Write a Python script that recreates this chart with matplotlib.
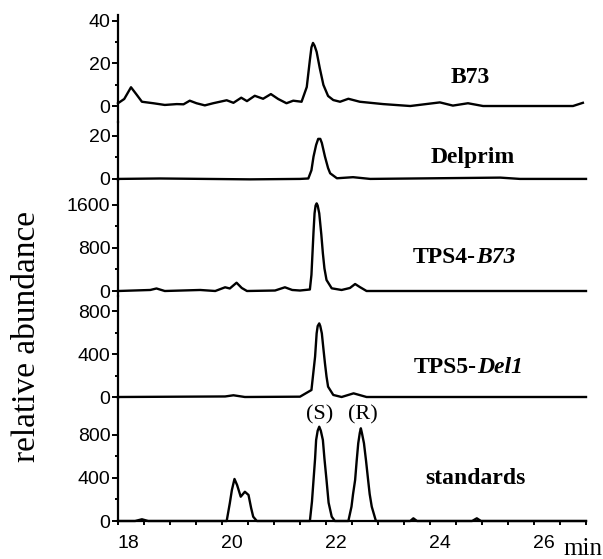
import matplotlib
matplotlib.use("Agg")
import matplotlib.pyplot as plt
from matplotlib.ticker import FixedLocator, MultipleLocator
from matplotlib.transforms import ScaledTranslation

# retention time (min) and abundance
b73_x = [18.00, 18.12, 18.25, 18.35, 18.46, 18.68, 18.90, 19.13, 19.26, 19.38, 19.51, 19.67,
         19.83, 20.09, 20.22, 20.37, 20.48, 20.63, 20.79, 20.94, 21.08, 21.24, 21.37, 21.53,
         21.63, 21.69, 21.72, 21.75, 21.78, 21.82, 21.88, 21.95, 22.04, 22.14, 22.27, 22.43,
         22.65, 23.10, 23.62, 24.19, 24.44, 24.73, 25.02, 25.98, 26.75, 26.94]
b73_y = [1.3, 3.3, 8.8, 5.6, 2.0, 1.3, 0.5, 0.9, 0.8, 2.5, 1.3, 0.3,
         1.3, 2.7, 1.5, 3.9, 2.3, 4.8, 3.4, 5.6, 3.3, 1.3, 2.5, 2.0,
         8.9, 21.6, 27.5, 29.6, 28.3, 25.4, 17.8, 9.9, 4.7, 2.8, 2.0, 3.4,
         2.0, 0.9, 0.0, 1.7, 0.2, 1.3, 0.0, 0.0, 0.0, 1.5]

delprim_x = [18.00, 18.81, 20.54, 21.50, 21.66, 21.72, 21.76, 21.81, 21.85, 21.89, 21.92,
             21.98, 22.04, 22.08, 22.21, 22.52, 22.85, 25.35, 25.73, 27.00]
delprim_y = [0.0, 0.2, -0.2, 0.0, 0.2, 4.0, 10.3, 15.7, 18.5, 18.5, 16.6,
             10.3, 5.0, 2.6, 0.3, 0.8, 0.0, 0.6, 0.0, 0.0]

tps4_x = [18.00, 18.62, 18.74, 18.90, 19.58, 19.87, 20.06, 20.15, 20.28, 20.38, 20.48,
          21.02, 21.21, 21.35, 21.50, 21.69, 21.72, 21.74, 21.76, 21.78, 21.80, 21.82,
          21.84, 21.87, 21.91, 21.94, 21.97, 22.01, 22.11, 22.30, 22.46, 22.56, 22.65,
          22.78, 27.00]
tps4_y = [0, 19, 47, 0, 19, 0, 69, 47, 154, 56, 0,
          9, 69, 19, 9, 28, 300, 700, 1100, 1445, 1590, 1630,
          1590, 1445, 1050, 700, 420, 205, 50, 19, 56, 130, 74,
          0, 0]

tps5_x = [18.00, 20.06, 20.22, 20.44, 21.50, 21.72, 21.79, 21.82, 21.84, 21.87, 21.89,
          21.92, 21.95, 21.98, 22.01, 22.04, 22.14, 22.30, 22.53, 22.78, 27.00]
tps5_y = [0, 5, 16, 0, 3, 65, 375, 592, 660, 685, 660,
          592, 450, 313, 190, 96, 19, 0, 34, 0, 0]

std_x = [18.00, 18.33, 18.46, 18.58, 20.09, 20.15, 20.19, 20.24, 20.29, 20.36, 20.44,
         20.51, 20.56, 20.60, 20.67, 21.69, 21.73, 21.76, 21.79, 21.81, 21.84, 21.87,
         21.90, 21.94, 21.97, 22.01, 22.05, 22.11, 22.17, 22.43, 22.49, 22.52, 22.56,
         22.59, 22.62, 22.65, 22.67, 22.69, 22.73, 22.77, 22.81, 22.84, 22.88, 22.96,
         23.62, 23.68, 23.75, 24.81, 24.90, 24.98, 27.00]
std_y = [0, 0, 16, 0, 0, 165, 288, 391, 335, 226, 272,
         242, 121, 40, 0, 0, 180, 381, 580, 753, 840, 877,
         840, 753, 580, 381, 170, 40, 0, 0, 133, 250, 381,
         560, 723, 820, 862, 820, 723, 560, 381, 250, 133, 0,
         0, 25, 0, 0, 25, 0, 0]

# enantiomer labels above the two standard peaks
peak_labels = ["(S)", "(R)"]
peak_label_x = [21.87, 22.71]
peak_label_y = [940, 940]

SANS = "Liberation Sans"
SERIF = "Liberation Serif"

W, H = 603, 559
fig = plt.figure(figsize=(W / 100, H / 100), dpi=100)

# panel layout in pixels: (top, bottom), y-limits, major and minor ticks
panels = [
    (b73_x, b73_y, (15, 122), (-7.5, 42.7), [0, 20, 40], [10, 30]),
    (delprim_x, delprim_y, (122, 180), (-0.5, 26.3), [0, 20], [10]),
    (tps4_x, tps4_y, (180, 296), (-93, 2065), [0, 800, 1600], [400, 1200]),
    (tps5_x, tps5_y, (296, 398), (-9.3, 940), [0, 400, 800], [200, 600]),
    (std_x, std_y, (398, 521), (0, 1144), [0, 400, 800], [200, 600]),
]

left, right = 118, 586
axes = []
for x, y, (top, bot), ylim, major, minor in panels:
    ax = fig.add_axes([left / W, 1 - bot / H, (right - left) / W, (bot - top) / H])
    ax.patch.set_visible(False)
    ax.plot(x, y, color="black", lw=1.7, clip_on=False, solid_joinstyle="round")
    ax.set_xlim(18, 27)
    ax.set_ylim(*ylim)
    for s in ["top", "right", "bottom"]:
        ax.spines[s].set_visible(False)
    ax.spines["left"].set_linewidth(1.6)
    ax.yaxis.set_major_locator(FixedLocator(major))
    ax.yaxis.set_minor_locator(FixedLocator(minor))
    ax.tick_params(axis="y", which="major", length=4.5, width=1.4, pad=1, labelsize=14)
    ax.tick_params(axis="y", which="minor", length=2, width=1.4)
    for lab in ax.get_yticklabels():
        lab.set_fontfamily(SANS)
    ax.set_xticks([])
    ax.tick_params(axis="x", which="both", bottom=False, labelbottom=False)
    axes.append(ax)

ax = axes[-1]
ax.spines["bottom"].set_visible(True)
ax.spines["bottom"].set_linewidth(1.6)
ax.set_xticks([18, 20, 22, 24, 26])
ax.xaxis.set_minor_locator(MultipleLocator(0.5))
ax.tick_params(axis="x", which="both", bottom=True, labelbottom=True, length=3, width=1.4,
               labelsize=14, pad=7)
shift = ScaledTranslation(0.10, 0, fig.dpi_scale_trans)
for lab in ax.get_xticklabels():
    lab.set_fontfamily(SANS)
    lab.set_transform(lab.get_transform() + shift)

for txt, px, py in zip(peak_labels, peak_label_x, peak_label_y):
    ax.text(px, py, txt, ha="center", va="baseline", fontsize=16, family=SERIF)


def px2fig(xp, yp):
    return xp / W, 1 - yp / H


# sample names: bold, with the italic allele part as a separate piece
bold = dict(va="baseline", fontsize=17, family=SERIF, fontweight="bold")
fig.text(*px2fig(470, 83), "B73", ha="center", **bold)
fig.text(*px2fig(473, 163), "Delprim", ha="center", **bold)
fig.text(*px2fig(476, 263), "TPS4-", ha="right", **bold)
fig.text(*px2fig(476, 263), "B73", ha="left", fontstyle="italic", **bold)
fig.text(*px2fig(477, 373), "TPS5-", ha="right", **bold)
fig.text(*px2fig(477, 373), "Del1", ha="left", fontstyle="italic", **bold)
fig.text(*px2fig(475, 484), "standards", ha="center", **bold)

fig.text(*px2fig(27, 336), "relative abundance", rotation=90, ha="center", va="center",
         fontsize=24, family=SERIF)
fig.text(*px2fig(583, 549), "min", ha="center", va="center", fontsize=18, family=SERIF)

fig.savefig("out.png", dpi=100)
